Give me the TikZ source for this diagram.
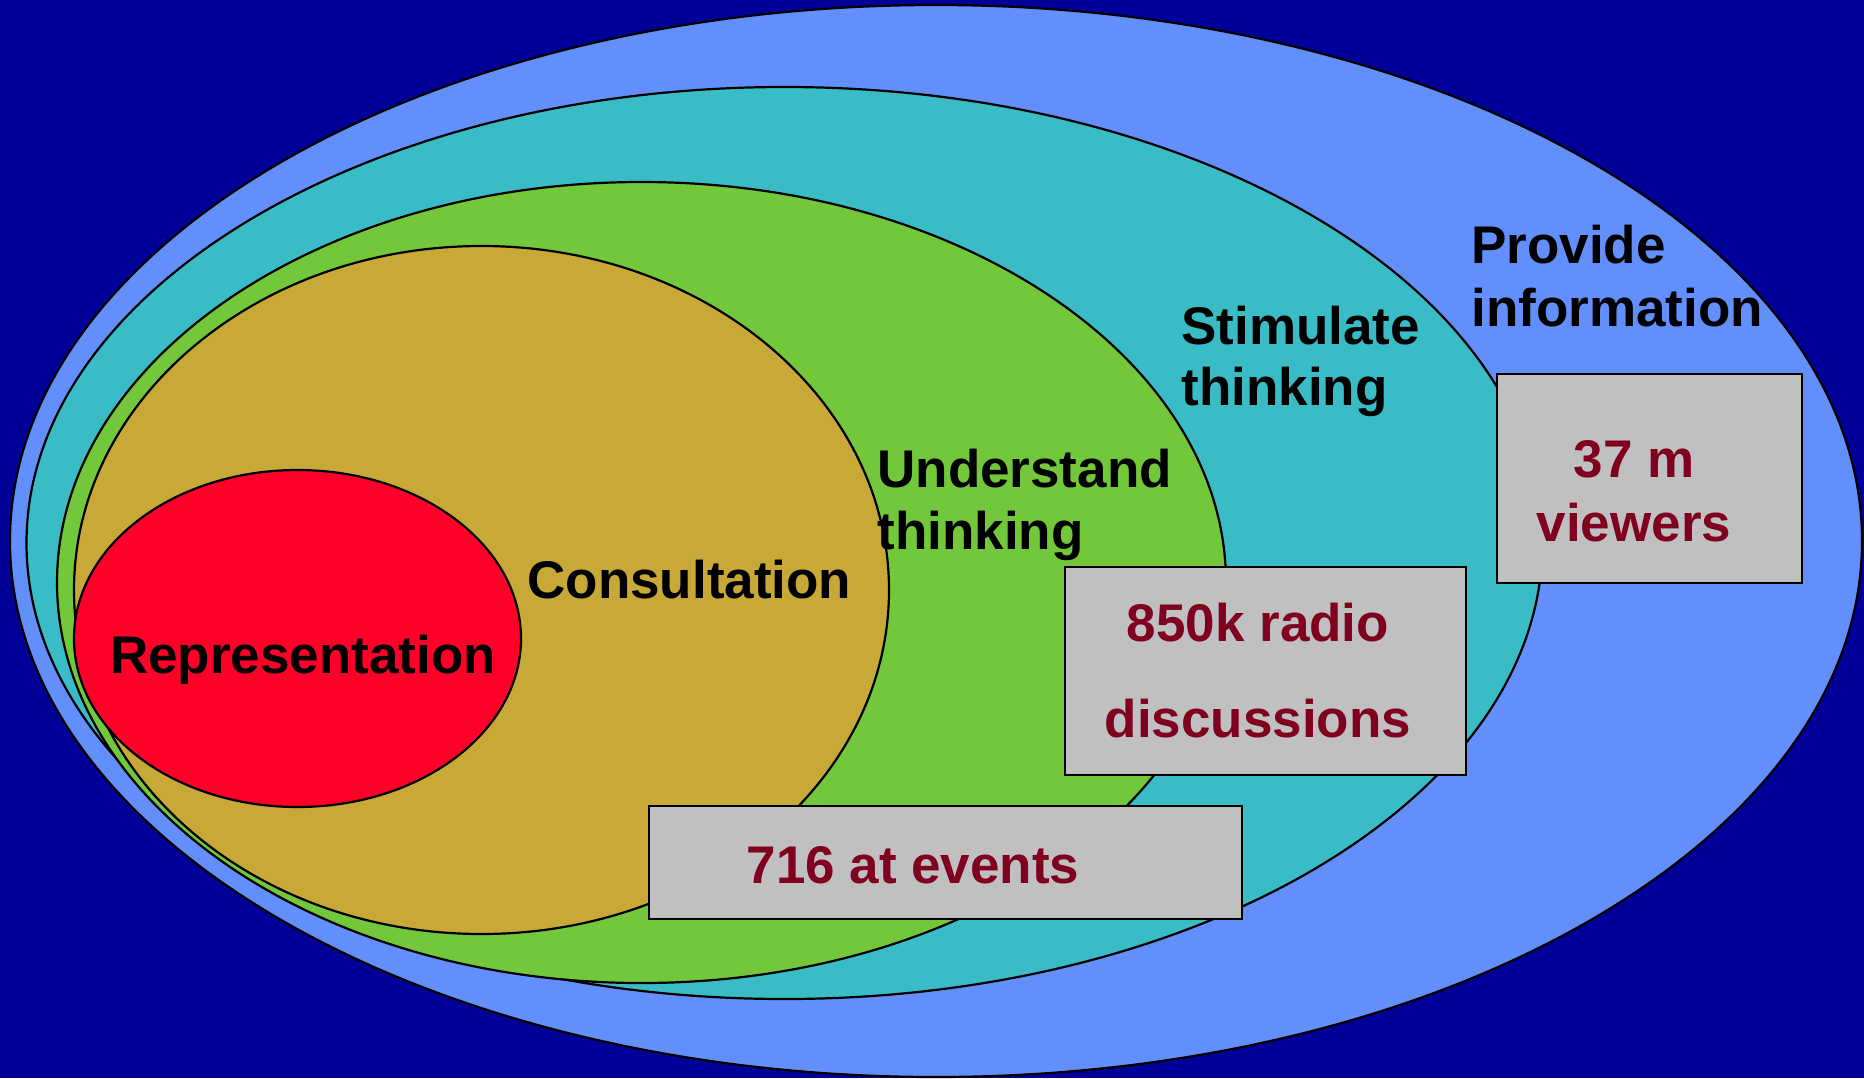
\documentclass[tikz,border=0pt]{standalone}
\usepackage{fontspec}
\setmainfont{Liberation Sans}
\definecolor{bgblue}{HTML}{000099}
\definecolor{outerblue}{HTML}{628FFC}
\definecolor{tealc}{HTML}{3ABCC6}
\definecolor{greenc}{HTML}{72C83A}
\definecolor{goldc}{HTML}{C8A836}
\definecolor{redc}{HTML}{FF0028}
\definecolor{boxgray}{HTML}{C0C0C0}
\definecolor{boxtext}{HTML}{800020}
\begin{document}
\begin{tikzpicture}[x=0.5pt,y=-0.5pt,
  ring/.style={draw=black,line width=1.1pt},
  lbl/.style={inner sep=0pt,font=\fontsize{26.5}{31.75}\selectfont\bfseries,text=black},
  blbl/.style={inner sep=0pt,font=\fontsize{26.5}{31.75}\selectfont\bfseries,text=boxtext},
  databox/.style={draw=black,line width=1.1pt,fill=boxgray,inner sep=0pt}]
\fill[bgblue] (0,0) rectangle (1864,1078);
\useasboundingbox (0,0) rectangle (1864,1078);
\draw[ring,fill=outerblue] (936,541) ellipse [x radius=463pt, y radius=268pt];
\draw[ring,fill=tealc] (784.5,543) ellipse [x radius=379pt, y radius=228pt];
\draw[ring,fill=greenc] (641.5,582.5) ellipse [x radius=292.25pt, y radius=200.25pt];
\draw[ring,fill=goldc] (481.5,590) ellipse [x radius=203.75pt, y radius=172pt];
\draw[ring,fill=redc] (297.5,638.5) ellipse [x radius=111.75pt, y radius=84.25pt];
% boxes
\node[databox,minimum width=152.5pt,minimum height=104.5pt] (b37) at (1649.5,478.5) {};
\node[databox,minimum width=200.5pt,minimum height=104pt] (b850) at (1265.5,671) {};
\node[databox,minimum width=296.5pt,minimum height=56.5pt] (b716) at (945.5,862.5) {};
% labels
\node[lbl,anchor=base west] (prov1) at (1471,263) {Provide};
\node[lbl,anchor=base west] (prov2) at (1471,326) {information};
\node[lbl,anchor=base west] (stim1) at (1181,344) {Stimulate};
\node[lbl,anchor=base west] (stim2) at (1181,405) {thinking};
\node[lbl,anchor=base west] (und1) at (877,487) {Understand};
\node[lbl,anchor=base west] (und2) at (877,549) {thinking};
\node[lbl,anchor=base west] (cons) at (527,598) {Consultation};
\node[lbl,anchor=base] (rep) at (303,673) {Representation};
\node[blbl,anchor=base] (t37a) at (1634,477) {37 m};
\node[blbl,anchor=base] (t37b) at (1634,541) {viewers};
\node[blbl,anchor=base] (t850a) at (1258,641) {850k radio};
\node[blbl,anchor=base] (t850b) at (1258,737) {discussions};
\node[blbl,anchor=base] (t716) at (913,883) {716 at events};
\end{tikzpicture}
\end{document}
